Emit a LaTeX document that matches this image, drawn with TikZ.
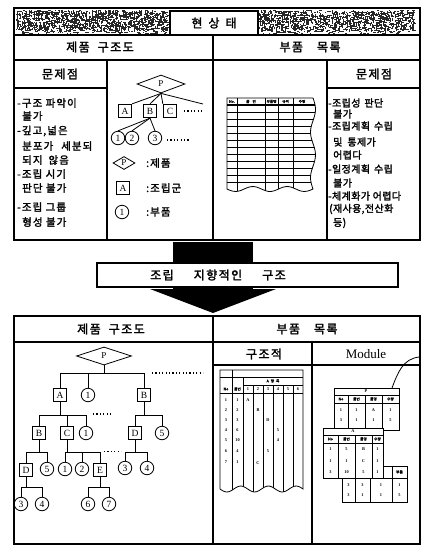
\documentclass[tikz,border=0pt]{standalone}
\usepackage{fontspec}
\setmainfont{Liberation Serif}
\newfontfamily\kr{Noto Sans CJK KR}[AutoFakeBold=2]
\usetikzlibrary{shapes.geometric}
\begin{document}
\begin{tikzpicture}[x=1pt,y=-1pt,
  frame/.style={line width=1.1pt},
  tl/.style={line width=0.8pt},
  sq/.style={draw,line width=0.8pt,minimum width=13.5pt,minimum height=13.5pt,inner sep=0pt,font=\fontsize{9.5}{10}\selectfont},
  cir/.style={draw,circle,line width=0.8pt,minimum size=13.5pt,inner sep=0pt,font=\fontsize{9.5}{10}\selectfont},
  dia/.style={draw,diamond,line width=0.8pt,inner sep=0pt,font=\fontsize{9}{10}\selectfont},
  hd/.style={font=\kr\bfseries\fontsize{12}{14}\selectfont\addfontfeature{LetterSpace=12},inner sep=0pt},
  bodyl/.style={font=\kr\bfseries\fontsize{10.5}{12}\selectfont\addfontfeature{LetterSpace=10},inner sep=0pt,anchor=west},
  bodyr/.style={font=\kr\bfseries\fontsize{10}{12}\selectfont\addfontfeature{LetterSpace=4},inner sep=0pt,anchor=west},
  dots/.style={line width=1.1pt,dash pattern=on 1.2pt off 2.2pt},
  tk/.style={font=\kr\bfseries\fontsize{3.6}{4}\selectfont,inner sep=0pt},
  td/.style={font=\bfseries\fontsize{4.3}{4.5}\selectfont,inner sep=0pt},
]
\useasboundingbox (0,0) rectangle (425,547);
\fill[white] (0,0) rectangle (425,547);

% ---------- noisy banner texture ----------
\pgfmathsetseed{42}
\foreach \i in {1,...,650}{
  \pgfmathsetmacro{\xx}{16+151*rnd}
  \pgfmathsetmacro{\yy}{10+23*rnd}
  \pgfmathsetmacro{\ww}{0.7+3.2*rnd}
  \fill[black!85] (\xx,\yy) rectangle ++(\ww,1.0);
  \pgfmathsetmacro{\xa}{16+151*rnd}
  \pgfmathsetmacro{\ya}{10+19*rnd}
  \pgfmathsetmacro{\ha}{0.7+3.2*rnd}
  \fill[black!85] (\xa,\ya) rectangle ++(1.0,\ha);
}
\foreach \i in {1,...,600}{
  \pgfmathsetmacro{\xx}{259+155*rnd}
  \pgfmathsetmacro{\yy}{10+23*rnd}
  \pgfmathsetmacro{\ww}{0.7+3.2*rnd}
  \fill[black!85] (\xx,\yy) rectangle ++(\ww,1.0);
  \pgfmathsetmacro{\xa}{259+155*rnd}
  \pgfmathsetmacro{\ya}{10+19*rnd}
  \pgfmathsetmacro{\ha}{0.7+3.2*rnd}
  \fill[black!85] (\xa,\ya) rectangle ++(1.0,\ha);
}

% ---------- top box frames ----------
\draw[frame] (14,8) rectangle (420,240);
\draw[frame] (14,35) -- (420,35);
\draw[frame] (14,60) -- (420,60);
\draw[frame] (213,35) -- (213,240);
\draw[frame] (107,60) -- (107,240);
\draw[frame] (14,88) -- (107,88);
\draw[frame] (327,60) -- (327,240);
\draw[frame] (327,88) -- (420,88);

\node[hd,draw,frame,fill=white,minimum width=88pt,minimum height=24pt] (hs) at (214,23) {현\hspace{6pt}상\hspace{6pt}태};
\node[hd] (h1) at (100,47) {제품\hspace{8pt}구조도};
\node[hd] (h2) at (310,47) {부품\hspace{14pt}목록};
\node[hd] (m1) at (60,74) {문제점};
\node[hd] (m2) at (374,74) {문제점};

% left problem text
\node[bodyl] (ta1) at (17,103) {-구조 파악이};
\node[bodyl] (ta2) at (22,116) {불가};
\node[bodyl] (ta3) at (17,131) {-깊고,넓은};
\node[bodyl] (ta4) at (22,146) {분포가\hspace{8pt}세분되};
\node[bodyl] (ta5) at (22,160) {되지\hspace{6pt}않음};
\node[bodyl] (ta6) at (17,174) {-조립 시기};
\node[bodyl] (ta7) at (22,188) {판단 불가};
\node[bodyl] (ta8) at (17,207) {-조립 그룹};
\node[bodyl] (ta9) at (22,222) {형성 불가};

% right problem text
\node[bodyr] (tb1) at (328,103) {-조립성\hspace{4pt}판단};
\node[bodyr] (tb2) at (333,114) {불가};
\node[bodyr] (tb3) at (328,126) {-조립계획\hspace{4pt}수립};
\node[bodyr] (tb4) at (333,142) {및\hspace{5pt}통제가};
\node[bodyr] (tb5) at (333,155) {어렵다};
\node[bodyr] (tb6) at (328,169) {-일정계획\hspace{4pt}수립};
\node[bodyr] (tb7) at (333,183) {불가};
\node[bodyr] (tb8) at (328,196) {-체계화가 어렵다};
\node[bodyr] (tb9) at (329,209) {(재사용,전산화};
\node[bodyr] (tb10) at (333,223) {등)};

% ---------- top tree ----------
\node[dia,minimum width=48pt,minimum height=18pt] (tP) at (161,84) {P};
\node[sq] (tA) at (125,111) {A};
\node[sq] (tB) at (150,111) {B};
\node[sq] (tC) at (170,111) {C};
\coordinate (tR) at (203,104);
\draw[tl] (tP.south) -- (tA.north east);
\draw[tl] (tP.south) -- (tB.north);
\draw[tl] (tP.south) -- (tC.north west);
\draw[tl] (tP.south) -- (tR);
\coordinate (td1) at (184,111); \coordinate (td2) at (204,111);
\draw[dots] (td1) -- (td2);
\node[cir] (t1) at (118,138) {1};
\node[cir] (t2) at (132,138) {2};
\node[cir] (t3) at (155,138) {3};
\foreach \n in {t1,t2,t3} \draw[tl] (tB.south) -- (\n.north);
\coordinate (td3) at (167,140); \coordinate (td4) at (190,140);
\draw[dots] (td3) -- (td4);

% legend
\node[dia,minimum width=22pt,minimum height=13pt] (lP) at (124,163) {P};
\node[bodyl] (lg1) at (146,163) {:제품};
\node[sq] (lA) at (123,188) {A};
\node[bodyl] (lg2) at (146,188) {:조립군};
\node[cir] (lC) at (122,212) {1};
\node[bodyl] (lg3) at (146,212) {:부품};

% ---------- top-right table ----------
\begin{scope}
\clip (227,98) -- (313,98) -- plot[domain=0:1,samples=30,smooth] ({313+2.5*sin(720*\x)},{98+91*\x}) -- plot[domain=1:0,samples=30,smooth] ({227+86*\x},{189+2.5*sin(900*\x)}) -- cycle;
\foreach \xv in {237,265,278,293} \draw[tl] (\xv,98) -- (\xv,200);
\draw[line width=1.2pt] (220,105) -- (320,105);
\foreach \yv in {112,119,126,133,140,147,154,161,168,175,182} \draw[tl] (220,\yv) -- (320,\yv);
\end{scope}
\draw[tl] (313,98) -- (227,98) -- (227,189) -- plot[domain=0:1,samples=30,smooth] ({227+86*\x},{189+2.5*sin(900*\x)}) -- plot[domain=1:0,samples=30,smooth] ({313+2.5*sin(720*\x)},{98+91*\x});
\node[tk] (th1) at (232,101.5) {No.};
\node[tk] (th2) at (251,101.5) {품\hspace{3pt}번};
\node[tk] (th3) at (271.5,101.5) {부품명};
\node[tk] (th4) at (285.5,101.5) {규격};
\node[tk] (th5) at (302,101.5) {수량};

% ---------- arrow and banner ----------
\fill (173,242) rectangle (253,292);
\fill (150,289) -- (276,289) -- (213,313) -- cycle;
\draw[frame,fill=white] (97,263) rectangle (398,287);
\node[hd] (ban) at (218,275) {조립\hspace{20pt}지향적인\hspace{20pt}구조};

% ---------- lower box frames ----------
\draw[frame] (14,316) rectangle (420,544);
\draw[frame] (14,342) -- (420,342);
\draw[frame] (213,316) -- (213,544);
\draw[frame] (312,342) -- (312,544);
\draw[frame] (213,365) -- (420,365);
\node[hd] (h3) at (111,329) {제품\hspace{8pt}구조도};
\node[hd] (h4) at (307,329) {부품\hspace{14pt}목록};
\node[hd] (h5) at (264,354) {구조적};
\node[font=\fontsize{13}{14}\selectfont,inner sep=0pt] (h6) at (366,354) {Module};

% ---------- lower tree ----------
\node[dia,minimum width=55pt,minimum height=18pt] (P) at (104,356) {P};
\node[sq] (A1) at (60,395) {A};
\node[cir] (c1) at (88,395) {1};
\node[sq] (B1) at (144,395) {B};
\foreach \n in {A1,c1,B1} \draw[tl] (P.south) -- ++(0,8) -| (\n.north);
\coordinate (d1s) at (152,373); \coordinate (d1e) at (203,373);
\draw[dots] (d1s) -- (d1e);

\node[sq] (B2) at (39,433) {B};
\node[sq] (C2) at (67,433) {C};
\node[cir] (c1b) at (86,433) {1};
\foreach \n in {B2,C2,c1b} \draw[tl] (A1.south) -- ++(0,13) -| (\n.north);
\coordinate (d2s) at (93,414); \coordinate (d2e) at (113,414);
\draw[dots] (d2s) -- (d2e);

\node[sq] (D2) at (135,433) {D};
\node[cir] (c5) at (162,433) {5};
\foreach \n in {D2,c5} \draw[tl] (B1.south) -- ++(0,13) -| (\n.north);

\node[sq] (D1) at (26,470) {D};
\node[cir] (c5b) at (47,469) {5};
\foreach \n in {D1,c5b} \draw[tl] (B2.south) -- ++(0,12) -| (\n.north);

\node[cir] (c1c) at (65,469) {1};
\node[cir] (c2c) at (82,469) {2};
\node[sq] (E) at (100,470) {E};
\foreach \n in {c1c,c2c,E} \draw[tl] (C2.south) -- ++(0,12) -| (\n.north);
\coordinate (d3s) at (104,451.5); \coordinate (d3e) at (121,451.5);
\draw[dots] (d3s) -- (d3e);

\node[cir] (c3) at (125,468) {3};
\node[cir] (c4) at (147,468) {4};
\foreach \n in {c3,c4} \draw[tl] (D2.south) -- ++(0,12) -| (\n.north);

\node[cir] (c3b) at (21,504) {3};
\node[cir] (c4b) at (42,504) {4};
\foreach \n in {c3b,c4b} \draw[tl] (D1.south) -- ++(0,10) -| (\n.north);

\node[cir] (c6) at (88,504) {6};
\node[cir] (c7) at (109,504) {7};
\foreach \n in {c6,c7} \draw[tl] (E.south) -- ++(0,10) -| (\n.north);

% ---------- structured table ----------
\begin{scope}
\clip (220,370) -- (303,370) -- (303,489) -- plot[domain=1:0,samples=40,smooth] ({220+83*\x},{489+3*sin(1080*\x)}) -- cycle;
\draw[tl] (232,370) -- (232,500);
\draw[tl] (243,377) -- (243,500);
\foreach \xv in {253,263,273,283,293} \draw[tl] (\xv,385) -- (\xv,500);
\draw[tl] (220,377) -- (303,377);
\draw[tl] (243,385) -- (303,385);
\draw[tl] (220,393) -- (303,393);
\end{scope}
\draw[tl] (220,489) -- (220,370) -- (303,370) -- (303,489) -- plot[domain=1:0,samples=40,smooth] ({220+83*\x},{489+3*sin(1080*\x)});
\node[tk] (sh0) at (273,381) {A\hspace{2pt}항\hspace{2pt}목};
\node[tk] (sh1) at (226,389) {No};
\node[tk] (sh2) at (237.5,389) {품번};
\foreach \k/\xv in {1/248,2/258,3/268,4/278,5/288,6/298} \node[td] (shc\k) at (\xv,389) {\k};
\foreach \k/\yv in {1/400,2/410,3/420,4/430,5/440,6/451,7/462} \node[td] (sr\k) at (226,\yv) {\k};
\foreach \k/\v/\yv in {1/1/400,2/2/410,3/3/420,4/6/430,5/10/440,6/4/451,7/1/462} \node[td] (sq\k) at (237.5,\yv) {\v};
\node[td] (sv1) at (248,400) {A};
\node[td] (sv2) at (258,410) {B};
\node[td] (sv3) at (268,420) {D};
\node[td] (sv4) at (278,430) {5};
\node[td] (sv5) at (278,440) {4};
\node[td] (sv6) at (268,451) {5};
\node[td] (sv7) at (258,463) {C};

% ---------- module tables ----------
\coordinate (cs) at (392,388); \coordinate (ce) at (419,357);
\draw[tl] (cs) .. controls (398,372) and (403,359) .. (ce);

% table P
\draw[tl,fill=white] (334,388) rectangle (399,430);
\draw[tl] (334,395) -- (399,395);
\draw[tl] (334,403) -- (399,403);
\foreach \xv in {348,365,382} \draw[tl] (\xv,395) -- (\xv,430);
\node[td] (pt) at (366,391.5) {P};
\node[tk] (ph1) at (341,399) {No};
\node[tk] (ph2) at (356.5,399) {품번};
\node[tk] (ph3) at (373.5,399) {품명};
\node[tk] (ph4) at (390.5,399) {수량};
\foreach \k/\a/\b/\c/\d/\yv in {1/1/1/A/1/410,2/3/1/1/5/420}{
  \node[td] (pa\k) at (341,\yv) {\a};
  \node[td] (pb\k) at (356.5,\yv) {\b};
  \node[td] (pc\k) at (373.5,\yv) {\c};
  \node[td] (pd\k) at (390.5,\yv) {\d};
}

% third table (behind A)
\draw[tl,fill=white] (342,466) rectangle (407,502);
\draw[tl] (342,478) -- (407,478);
\foreach \xv in {355,370,392} \draw[tl] (\xv,466) -- (\xv,502);
\node[tk] (bh4) at (399.5,472) {부품};
\foreach \k/\a/\b/\c/\d/\yv in {1/3/3/1/1/485,2/3/1/1/5/495}{
  \node[td] (ba\k) at (348.5,\yv) {\a};
  \node[td] (bb\k) at (362.5,\yv) {\b};
  \node[td] (bc\k) at (381,\yv) {\c};
  \node[td] (bd\k) at (399.5,\yv) {\d};
}

% table A
\draw[tl,fill=white] (323,428) rectangle (383,478);
\draw[tl] (323,435) -- (383,435);
\draw[tl] (323,443) -- (383,443);
\foreach \xv in {338,355,372} \draw[tl] (\xv,435) -- (\xv,478);
\node[td] (at) at (353,431.5) {A};
\node[tk] (ah1) at (330.5,439) {No};
\node[tk] (ah2) at (346.5,439) {품번};
\node[tk] (ah3) at (363.5,439) {품명};
\node[tk] (ah4) at (377.5,439) {수량};
\foreach \k/\a/\b/\c/\d/\yv in {1/1/5/B/1/449,2/1/1/C/1/461,3/3/10/5/1/472}{
  \node[td] (aa\k) at (330.5,\yv) {\a};
  \node[td] (ab\k) at (346.5,\yv) {\b};
  \node[td] (ac\k) at (363.5,\yv) {\c};
  \node[td] (ad\k) at (377.5,\yv) {\d};
}
\end{tikzpicture}
\end{document}
